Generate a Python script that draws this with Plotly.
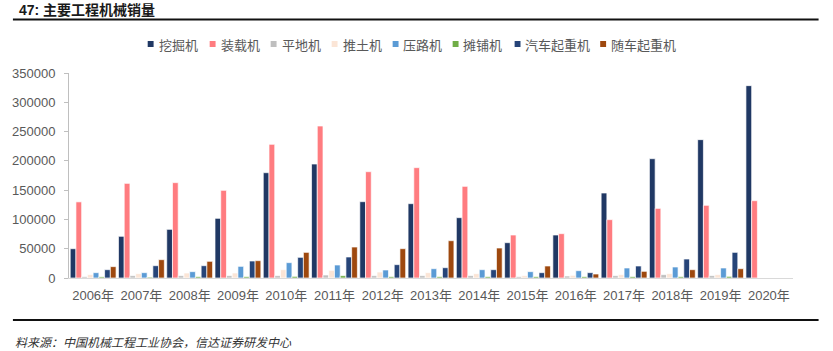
import plotly.graph_objects as go

# ---- data ----
years = ["2006年", "2007年", "2008年", "2009年", "2010年", "2011年", "2012年", "2013年",
         "2014年", "2015年", "2016年", "2017年", "2018年", "2019年", "2020年"]
series_names = ["挖掘机", "装载机", "平地机", "推土机", "压路机", "摊铺机", "汽车起重机", "随车起重机"]
excavator = [50000, 71200, 83100, 101900, 179800, 194600, 130300, 126900, 103000, 60300, 73400, 145100, 203700, 236200, 328400]
loader = [130000, 161600, 162800, 149700, 228200, 259500, 181500, 188400, 156500, 73400, 75700, 99600, 118900, 124100, 132000]
grader = [2300, 4000, 4000, 4000, 4000, 5100, 4000, 4000, 4000, 2300, 3400, 4000, 5700, 4000, None]
bulldozer = [5700, 7400, 8500, 8500, 14200, 13100, 10200, 9100, 7400, 4000, 4600, 5700, 7400, 5700, None]
roller = [9100, 9100, 10800, 19900, 26200, 22200, 13700, 15900, 14200, 10800, 12500, 17100, 18800, 17100, None]
paver = [2000, 1500, 2300, 2300, 2800, 4000, 2300, 2300, 2300, 2300, 2300, 2300, 2300, 2800, None]
truck_crane = [14200, 21000, 21000, 29000, 35300, 35900, 22800, 17600, 14200, 9100, 9100, 20500, 32400, 43800, None]
loader_crane = [19400, 31300, 28500, 29600, 43800, 52900, 50100, 63700, 51200, 20500, 6800, 11400, 14200, 15900, None]
y_ticks = [0, 50000, 100000, 150000, 200000, 250000, 300000, 350000]

values = [excavator, loader, grader, bulldozer, roller, paver, truck_crane, loader_crane]
colors = ["#203864", "#FF7C80", "#BFBFBF", "#FBE5D6", "#5B9BD5", "#70AD47", "#264478", "#9E480E"]

# ---- layout geometry (pixels) ----
W, H = 833, 351
L, R, T, B = 57, 40, 73, 73
PW, PH = W - L - R, H - T - B

def px(x):
    return (x - L) / PW

def py(y):
    return (H - B - y) / PH

FONT = "Liberation Sans, Noto Sans CJK SC, sans-serif"
CJK = "Noto Sans CJK SC, sans-serif"
GRAY = "#595959"

fig = go.Figure()
for name, vals, col in zip(series_names, values, colors):
    fig.add_trace(go.Bar(
        name=name, x=years, y=vals,
        marker=dict(color=col, line=dict(color="rgba(255,255,255,0.85)", width=0.8)),
        showlegend=False,
    ))

shapes = []
annotations = []

# manual legend
legend_x = [137, 200, 262, 324, 386, 447, 510, 597]
for lx, name, col in zip(legend_x, series_names, colors):
    shapes.append(dict(type="rect", xref="paper", yref="paper",
                       x0=px(lx), x1=px(lx + 6), y0=py(47), y1=py(41),
                       fillcolor=col, line=dict(width=0)))
    annotations.append(dict(text=name, xref="paper", yref="paper",
                            x=px(lx + 9), y=py(44), xanchor="left", yanchor="middle",
                            showarrow=False, font=dict(family=CJK, size=13, color=GRAY)))

# title and rules
annotations.append(dict(text="<b>47: 主要工程机械销量</b>", xref="paper", yref="paper",
                        x=px(4), y=py(10), xanchor="left", yanchor="middle", showarrow=False,
                        font=dict(family="Liberation Sans, Noto Sans CJK SC", size=14, color="#1a1a1a")))
shapes.append(dict(type="line", xref="paper", yref="paper", x0=px(0), x1=px(819),
                   y0=py(19.5), y1=py(19.5), line=dict(color="#111111", width=2)))
shapes.append(dict(type="line", xref="paper", yref="paper", x0=px(0), x1=px(819),
                   y0=py(320), y1=py(320), line=dict(color="#111111", width=2)))
annotations.append(dict(text="料来源：中国机械工程工业协会，信达证券研发中心", xref="paper", yref="paper",
                        x=px(0), y=py(341), xanchor="left", yanchor="middle", showarrow=False,
                        font=dict(family=CJK, size=12, color="#333333", style="italic")))

fig.update_layout(
    width=W, height=H, autosize=False,
    margin=dict(l=L, r=R, t=T, b=B, pad=0),
    paper_bgcolor="white", plot_bgcolor="white",
    barmode="group", bargap=0.05, bargroupgap=0,
    font=dict(family=FONT, size=13, color=GRAY),
    shapes=shapes, annotations=annotations,
    xaxis=dict(showgrid=False, showline=True, linecolor="#D9D9D9", linewidth=1,
               ticks="", tickfont=dict(family=FONT, size=13, color=GRAY),
               ticklabelstandoff=5),
    yaxis=dict(range=[0, 350000], tickvals=y_ticks, tickformat="d", showgrid=False,
               showline=True, linecolor="#BFBFBF", linewidth=1, ticks="outside",
               ticklen=4, tickcolor="#BFBFBF", zeroline=False,
               tickfont=dict(family=FONT, size=13, color=GRAY), ticklabelstandoff=6),
)

fig.write_html("out.html")
